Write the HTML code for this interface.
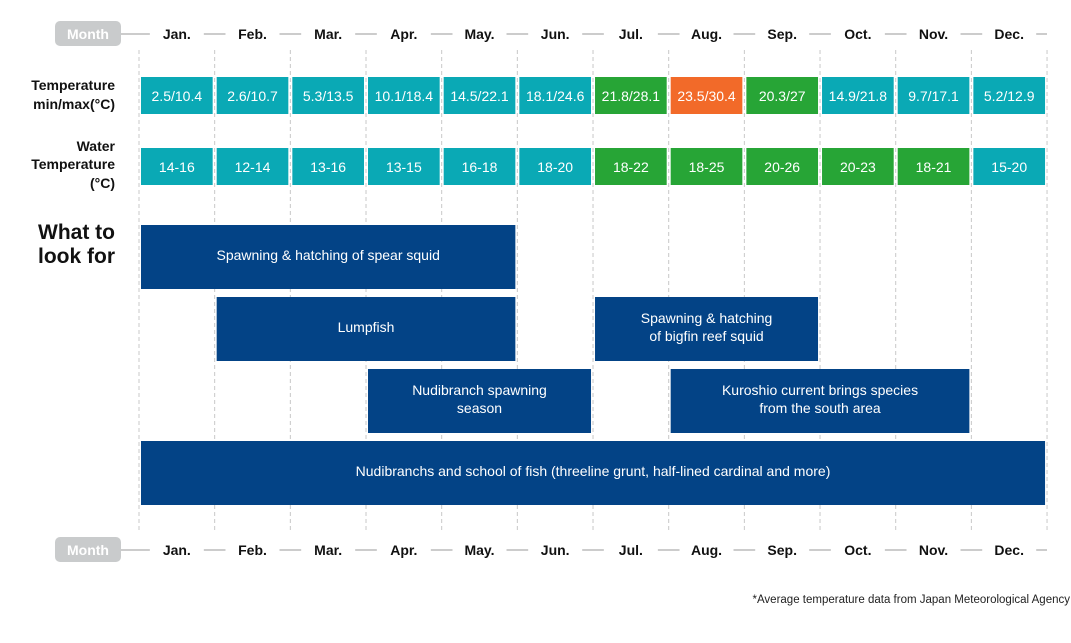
<!DOCTYPE html>
<html><head><meta charset="utf-8">
<style>
body{margin:0;width:1071px;height:643px;background:#fff;font-family:"Liberation Sans",sans-serif;overflow:hidden;position:relative}
svg{position:absolute;left:0;top:0}
</style></head><body>
<svg id="c" width="1071" height="643"></svg>
<script>
const months=["Jan.","Feb.","Mar.","Apr.","May.","Jun.","Jul.","Aug.","Sep.","Oct.","Nov.","Dec."];
const airTemps=["2.5/10.4","2.6/10.7","5.3/13.5","10.1/18.4","14.5/22.1","18.1/24.6","21.8/28.1","23.5/30.4","20.3/27","14.9/21.8","9.7/17.1","5.2/12.9"];
const airLevels=["c","c","c","c","c","c","w","h","w","c","c","c"];
const waterTemps=["14-16","12-14","13-16","13-15","16-18","18-20","18-22","18-25","20-26","20-23","18-21","15-20"];
const waterLevels=["c","c","c","c","c","c","w","w","w","w","w","c"];
const evLabels=[["Spawning & hatching of spear squid"],["Lumpfish"],["Spawning & hatching","of bigfin reef squid"],["Nudibranch spawning","season"],["Kuroshio current brings species","from the south area"],["Nudibranchs and school of fish (threeline grunt, half-lined cardinal and more)"]];
const evStart=[0,1,6,3,7,0];
const evEnd=[5,5,9,6,11,12];
const evRow=[0,1,1,2,2,3];

const NS="http://www.w3.org/2000/svg";
const svg=document.getElementById('c');
const x0=139,cw=75.67;
const X=i=>x0+i*cw;
const colors={c:"#0aa9b5",w:"#27a536",h:"#f26a29"};
function el(t,a,txt){const e=document.createElementNS(NS,t);for(const k in a)e.setAttribute(k,a[k]);if(txt!==undefined)e.textContent=txt;svg.appendChild(e);return e;}

for(let i=0;i<=12;i++){
  const l=el('line',{x1:X(i),x2:X(i),y1:50,y2:532,stroke:"#c8c8c8","stroke-dasharray":"4,3","stroke-width":1});
  
  
}
function monthRow(y,pos){
  const p=el('rect',{x:55,y:y-13,width:66,height:25,rx:5,fill:"#c9cbcc"});
  
  
  const pt=el('text',{x:88,y:y+5,"text-anchor":"middle","font-size":14,"font-weight":"bold",fill:"#fff"},"Month");
  
  
  const ln=el('line',{x1:121,x2:1047,y1:y,y2:y,stroke:"#cccccc","stroke-width":2});
  
  
  months.forEach((m,i)=>{
    const cx=X(i)+cw/2;
    const bg=el('rect',{x:cx-27,y:y-10,width:54,height:20,fill:"#fff"});
    
    
    const t=el('text',{x:cx,y:y+5,"text-anchor":"middle","font-size":14,"font-weight":"bold",fill:"#111"},m);
    
    
  });
}
monthRow(34,'top');
monthRow(550,'bottom');

[["Temperature",85],["min/max(°C)",104]].forEach(([s,y])=>{const t=el('text',{x:115,y:y+5,"text-anchor":"end","font-size":14,"font-weight":"bold",fill:"#111"},s);});
[["Water",146],["Temperature",164],["(°C)",183]].forEach(([s,y])=>{const t=el('text',{x:115,y:y+5,"text-anchor":"end","font-size":14,"font-weight":"bold",fill:"#111"},s);});
[["What to",239],["look for",263]].forEach(([s,y])=>{const t=el('text',{x:115,y:y,"text-anchor":"end","font-size":21,"font-weight":"bold",fill:"#111"},s);});

function cellRow(vals,lv,y,name){
  vals.forEach((v,i)=>{
    const r=el('rect',{x:X(i)+2,y:y,width:cw-4,height:37,fill:colors[lv[i]]});
    
    
    const t=el('text',{x:X(i)+cw/2,y:y+24,"text-anchor":"middle","font-size":14,fill:"#fff"},v);
    
    
  });
}
cellRow(airTemps,airLevels,77,'air-temp');
cellRow(waterTemps,waterLevels,148,'water-temp');

const rowY=[225,297,369,441];
evLabels.forEach((lab,k)=>{
  const x1=X(evStart[k])+2,x2=X(evEnd[k])-2,y=rowY[evRow[k]];
  const r=el('rect',{x:x1,y:y,width:x2-x1,height:64,fill:"#034386"});
  
  
  const cx=(x1+x2)/2;
  lab.forEach((s,j)=>{
    const yy=y+30+5+(j-(lab.length-1)/2)*18;
    const t=el('text',{x:cx,y:yy,"text-anchor":"middle","font-size":14,fill:"#fff"},s);
    
    
  });
});
const f=el('text',{x:1070,y:603,"text-anchor":"end","font-size":11.5,fill:"#222"},"*Average temperature data from Japan Meteorological Agency");


</script>
</body></html>
